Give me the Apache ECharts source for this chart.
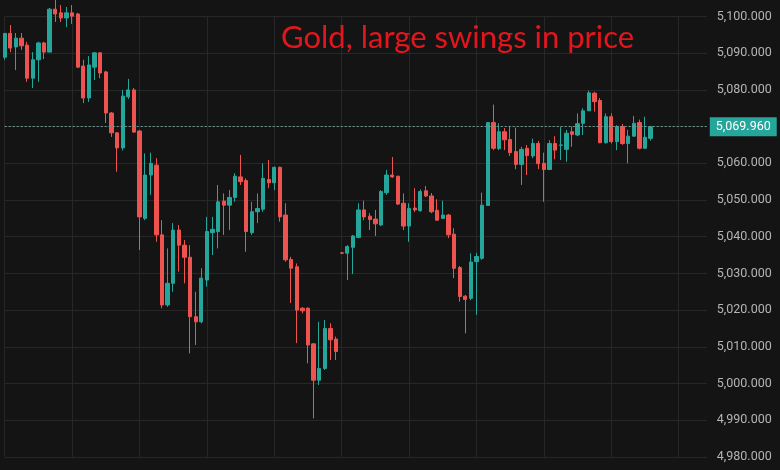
<!DOCTYPE html>
<html>
<head>
<meta charset="utf-8">
<script src="https://cdn.jsdelivr.net/npm/echarts@6/dist/echarts.min.js"></script>
<style>
html,body{margin:0;padding:0;background:#141414;}
#chart{width:780px;height:470px;}
</style>
</head>
<body>
<div id="chart"></div>
<script>
// ---- data (price bars) ----
const opens = [5088.9,5095.4,5091.7,5094.1,5092.2,5083.2,5088.2,5092.8,5090.3,5102.0,
5101.0,5099.6,5101.0,5100.7,5086.5,5077.8,5086.2,5090.1,5084.9,5073.7,
5068.3,5064.2,5078.1,5080.0,5068.8,5045.0,5056.8,5059.5,5040.5,5021.4,
5027.3,5041.8,5037.7,5034.4,5018.2,5016.8,5028.2,5041.1,5041.4,5049.7,
5048.6,5050.7,5056.3,5055.3,5041.1,5046.8,5047.5,5055.6,5054.7,5058.9,
5045.9,5033.8,5031.8,5020.5,5020.5,5010.8,5000.9,5004.1,5015.0,5012.1,
5035.6,5035.5,5037.1,5039.8,5047.3,5045.6,5044.8,5043.2,5052.0,5056.8,
5056.5,5049.1,5042.9,5047.8,5047.1,5052.5,5051.1,5047.2,5045.0,5045.9,
5040.7,5031.6,5023.8,5023.2,5033.2,5034.1,5048.5,5071.1,5064.0,5068.6,
5066.5,5063.2,5059.7,5064.1,5062.0,5065.4,5060.0,5058.3,5065.4,5064.9,
5063.8,5068.6,5067.7,5070.9,5074.3,5079.1,5077.1,5065.6,5072.7,5065.9,
5070.0,5065.4,5067.4,5071.1,5064.1,5066.8];
const closes = [5095.4,5091.4,5094.1,5092.0,5083.2,5088.2,5092.8,5090.3,5102.0,5100.7,
5099.6,5101.0,5100.1,5086.2,5077.8,5086.8,5090.1,5084.6,5073.7,5068.3,
5064.2,5078.3,5080.0,5068.5,5045.4,5056.8,5060.0,5040.5,5021.4,5027.3,
5041.8,5037.7,5034.4,5018.2,5016.8,5028.7,5041.4,5042.0,5049.5,5048.6,
5050.7,5056.5,5055.0,5041.4,5046.8,5047.7,5055.9,5054.7,5058.9,5045.4,
5033.7,5031.4,5020.0,5019.8,5010.5,5000.9,5004.1,5015.0,5011.9,5008.7,
5035.5,5037.3,5040.2,5047.3,5045.4,5044.7,5043.5,5052.3,5056.8,5056.3,
5048.9,5042.9,5047.7,5047.3,5052.3,5051.1,5046.8,5044.5,5045.9,5040.5,
5031.4,5023.7,5022.9,5033.1,5034.6,5048.6,5071.1,5064.1,5068.6,5066.4,
5062.9,5059.7,5063.8,5062.1,5065.4,5059.9,5058.3,5065.4,5063.6,5065.0,
5068.2,5067.9,5070.8,5074.3,5079.2,5076.8,5065.6,5072.7,5065.9,5070.0,
5065.4,5067.4,5070.9,5064.1,5067.1,5069.96];
const lows = [5088.2,5090.3,5085.4,5090.9,5082.2,5080.5,5082.2,5088.4,5090.3,5098.5,
5098.5,5097.1,5098.0,5086.0,5076.4,5076.7,5082.7,5083.2,5071.0,5067.2,
5057.7,5063.5,5077.5,5068.3,5036.4,5044.5,5051.4,5038.6,5020.5,5020.9,
5025.0,5030.5,5027.3,5008.2,5010.5,5016.4,5026.4,5035.0,5036.8,5040.5,
5041.8,5049.5,5054.1,5035.9,5040.5,5043.7,5046.8,5053.2,5052.7,5044.1,
5033.2,5021.9,5011.0,5019.1,5005.5,4990.5,4999.6,5003.7,5006.4,5006.4,
5035.3,5028.2,5029.8,5039.6,5044.5,5041.8,5040.2,5042.9,5051.4,5056.0,
5048.6,5041.8,5038.6,5046.7,5046.8,5050.8,5046.4,5044.4,5044.8,5039.6,
5028.7,5022.3,5013.7,5022.7,5018.7,5033.7,5048.4,5063.6,5063.6,5063.6,
5062.0,5058.4,5054.1,5056.8,5061.4,5058.4,5049.5,5058.2,5061.1,5060.9,
5060.4,5064.5,5067.4,5067.7,5074.3,5074.1,5065.5,5065.4,5065.4,5063.6,
5065.0,5060.0,5067.2,5063.8,5063.9,5066.2];
const highs = [5095.4,5097.7,5095.5,5095.5,5093.1,5090.3,5093.1,5093.1,5102.3,5104.5,
5103.1,5102.6,5103.1,5101.0,5088.2,5089.2,5090.3,5090.3,5085.2,5074.0,
5068.5,5080.0,5083.0,5080.5,5069.0,5062.7,5062.9,5061.4,5044.5,5036.8,
5043.7,5043.2,5039.1,5037.7,5025.0,5031.4,5045.4,5045.4,5054.1,5051.8,
5052.7,5057.3,5062.3,5055.9,5049.5,5051.8,5060.0,5060.9,5059.1,5059.1,
5049.1,5034.5,5032.7,5020.8,5020.8,5011.0,5016.8,5017.3,5016.4,5012.8,
5035.7,5037.7,5040.5,5049.1,5049.8,5046.4,5047.3,5052.7,5058.2,5061.7,
5056.5,5051.8,5049.1,5053.2,5052.9,5053.8,5051.9,5050.2,5049.8,5046.2,
5042.3,5032.0,5024.1,5035.5,5035.6,5052.0,5071.1,5076.0,5070.9,5069.6,
5070.2,5069.7,5064.5,5065.0,5066.7,5066.1,5062.9,5066.3,5067.4,5069.9,
5069.1,5070.0,5073.6,5075.0,5079.8,5079.5,5077.8,5073.6,5073.6,5070.4,
5070.7,5069.1,5072.9,5071.9,5072.7,5070.2];
const barCount = 126;            // bar slots on the time axis (last ones empty)
const categories = Array.from({length: barCount}, (_, i) => String(i + 1));
const yTicks = [4980, 4990, 5000, 5010, 5020, 5030, 5040, 5050, 5060, 5070, 5080, 5090, 5100];
const lastPrice = 5069.96;
const titleText = 'Gold, large swings in price';

// ---- build ----
const ohlc = opens.map((o, i) => [o, closes[i], lows[i], highs[i]]);
function fmt(v) {
  const s = v.toFixed(3);
  const parts = s.split('.');
  parts[0] = parts[0].replace(/\B(?=(\d{3})+(?!\d))/g, ',');
  return parts.join('.');
}
const UP = '#26a69a', DOWN = '#ef5350';
const chart = echarts.init(document.getElementById('chart'), null, {renderer: 'canvas'});
chart.setOption({
  backgroundColor: '#141414',
  animation: false,
  title: {
    text: titleText,
    left: 276, top: 17,
    textStyle: {color: '#e3161d', fontFamily: 'Lato', fontWeight: 'normal', fontSize: 31}
  },
  grid: {left: 4.7, right: 73.2, top: 16.5, bottom: 13.1, containLabel: false},
  xAxis: {
    type: 'category',
    data: categories,
    boundaryGap: false,
    axisLine: {show: false},
    axisTick: {show: false},
    axisLabel: {show: false},
    splitLine: {show: true, interval: 11, lineStyle: {color: '#272727', width: 1}}
  },
  yAxis: {
    type: 'value',
    position: 'right',
    min: yTicks[0],
    max: yTicks[yTicks.length - 1],
    interval: 10,
    scale: true,
    axisLine: {show: false},
    axisTick: {show: false},
    splitLine: {show: true, lineStyle: {color: '#272727', width: 1}},
    axisLabel: {
      margin: 10,
      color: '#b4b4b4',
      fontFamily: 'Roboto',
      fontSize: 12.5,
      formatter: v => fmt(v)
    }
  },
  series: [{
    type: 'candlestick',
    data: ohlc,
    clip: false,
    barWidth: 3.8,
    itemStyle: {
      color: UP, color0: DOWN,
      borderColor: UP, borderColor0: DOWN,
      borderColorDoji: DOWN,
      borderWidth: 1
    },
    markLine: {
      symbol: ['none', 'none'],
      silent: true,
      animation: false,
      lineStyle: {color: '#6f9c93', type: [2, 2], width: 1},
      label: {
        position: 'end',
        distance: 3,
        formatter: () => fmt(lastPrice),
        color: '#ffffff',
        fontFamily: 'Roboto',
        fontSize: 12.5,
        backgroundColor: UP,
        padding: [3, 6, 3, 6]
      },
      emphasis: {disabled: true},
      data: [{yAxis: lastPrice}]
    }
  }]
});
</script>
</body>
</html>
